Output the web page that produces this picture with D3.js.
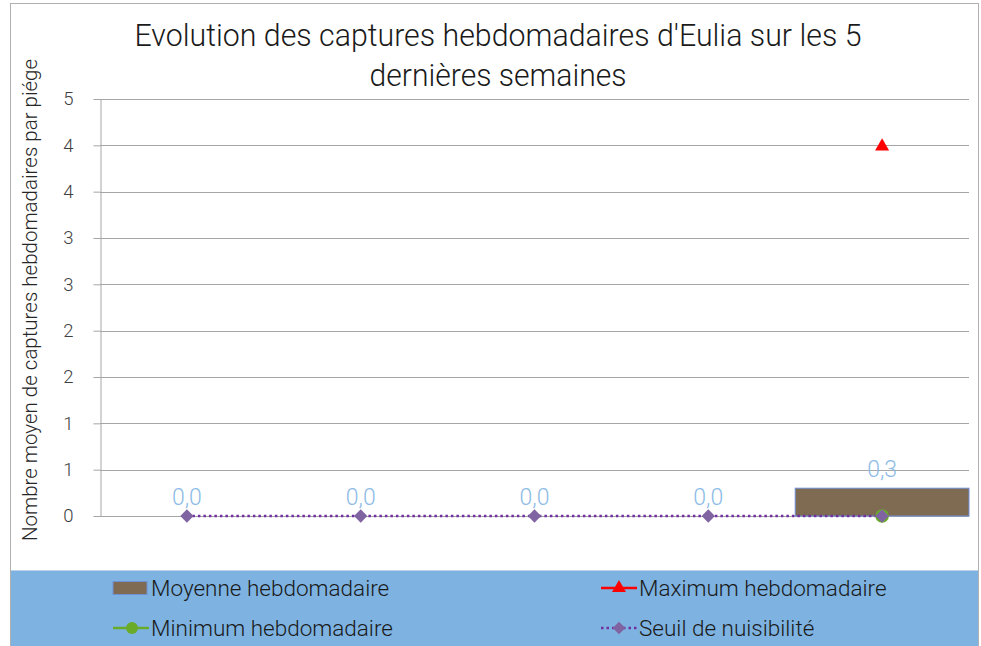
<!DOCTYPE html>
<html><head><meta charset="utf-8">
<script src="https://cdn.jsdelivr.net/npm/d3@7"></script>
<style>body{margin:0;background:#fff}svg{display:block}</style>
</head><body>
<svg id="c" width="981" height="646"></svg>
<script>
const categories = ["S1","S2","S3","S4","S5"];
const moyenne = [0.0, 0.0, 0.0, 0.0, 0.3];
const maximum = [null, null, null, null, 4.0];
const minimum = [null, null, null, null, 0.0];
const seuil = [0, 0, 0, 0, 0];
const yTicks = [0, 0.5, 1, 1.5, 2, 2.5, 3, 3.5, 4, 4.5];
const title = ["Evolution des captures hebdomadaires d'Eulia sur les 5", "dernières semaines"];
const yTitle = "Nombre moyen de captures hebdomadaires par piége";
const legendItems = ["Moyenne hebdomadaire", "Maximum hebdomadaire", "Minimum hebdomadaire", "Seuil de nuisibilité"];

const svg = d3.select("#c");
const font = "Roboto, 'Open Sans', sans-serif";
// chart border
svg.append("rect").attr("x",10.5).attr("y",3.5).attr("width",968).attr("height",650)
  .attr("fill","#fff").attr("stroke","#b0b0b0");

const x = d3.scaleBand().domain(categories).range([100, 969]).padding(0);
const y = d3.scaleLinear().domain([0, 4.5]).range([516, 99]);

// gridlines
svg.append("g").selectAll("line").data(yTicks.slice(1)).join("line")
  .attr("x1",100).attr("x2",969).attr("y1",d=>Math.round(y(d))+0.5).attr("y2",d=>Math.round(y(d))+0.5)
  .attr("stroke","#a6a6a6").attr("stroke-width",1);

// y axis
const yAxis = svg.append("g").attr("transform","translate(100.5,0)")
  .call(d3.axisLeft(y).tickValues(yTicks).tickSize(7).tickSizeOuter(0)
    .tickFormat(d => String(Math.round(d + 1e-9))));
yAxis.select(".domain").attr("stroke","#a6a6a6");
yAxis.selectAll(".tick line").attr("stroke","#a6a6a6");
yAxis.selectAll(".tick text").attr("font-family",font).attr("font-size",18.5).attr("fill","#404040").attr("x",-27).attr("font-weight",300);

// x axis line
svg.append("line").attr("x1",100).attr("x2",969).attr("y1",516.5).attr("y2",516.5).attr("stroke","#a6a6a6");

// bars
svg.append("g").selectAll("rect").data(moyenne.map((v,i)=>({c:categories[i],v}))).join("rect")
  .attr("x",d=>x(d.c)).attr("width",x.bandwidth())
  .attr("y",d=>y(d.v)).attr("height",d=>y(0)-y(d.v))
  .attr("fill","#7f6b52").attr("stroke",d=>d.v>0?"#6f8fd6":"none").attr("stroke-width",1);

// data labels
svg.append("g").selectAll("text").data(moyenne.map((v,i)=>({c:categories[i],v}))).join("text")
  .attr("x",d=>x(d.c)+x.bandwidth()/2).attr("y",d=>y(d.v)-11)
  .attr("text-anchor","middle").attr("font-family",font).attr("font-size",23).attr("font-weight",300)
  .attr("fill","#8dbbe6").text(d=>d3.format(".1f")(d.v).replace(".",","));

const cx = c => x(c)+x.bandwidth()/2;
// seuil line
svg.append("path").datum(seuil.map((v,i)=>[cx(categories[i]), y(v)]))
  .attr("d", d3.line()).attr("fill","none").attr("stroke","#7030a0").attr("stroke-width",2.5)
  .attr("stroke-dasharray","2.5,3");

// minimum markers
svg.append("g").selectAll("circle").data(minimum.map((v,i)=>({c:categories[i],v})).filter(d=>d.v!==null)).join("circle")
  .attr("cx",d=>cx(d.c)).attr("cy",d=>y(d.v)).attr("r",6.8).attr("fill","#6aac2a");

// seuil diamonds
svg.append("g").selectAll("path").data(seuil.map((v,i)=>({c:categories[i],v}))).join("path")
  .attr("transform",d=>`translate(${cx(d.c)},${y(d.v)}) rotate(45)`)
  .attr("d", d3.symbol().type(d3.symbolSquare).size(88)).attr("fill","#8064a2");

// maximum markers
svg.append("g").selectAll("path").data(maximum.map((v,i)=>({c:categories[i],v})).filter(d=>d.v!==null)).join("path")
  .attr("transform",d=>`translate(${cx(d.c)},${y(d.v)+1})`)
  .attr("d", d3.symbol().type(d3.symbolTriangle).size(85)).attr("fill","#ff0000");

// title
const titleW = [727, 257];
svg.append("g").selectAll("text").data(title).join("text")
  .attr("x",498).attr("y",(d,i)=>46+i*40).attr("text-anchor","middle")
  .attr("font-family",font).attr("font-weight",300).attr("font-size",31)
  .attr("textLength",(d,i)=>titleW[i]).attr("lengthAdjust","spacingAndGlyphs")
  .attr("fill","#1a1a1a").text(d=>d);

// y title
svg.append("text").attr("transform","translate(37,300) rotate(-90)").attr("text-anchor","middle")
  .attr("font-family",font).attr("font-size",20.5).attr("font-weight",300).attr("fill","#262626").text(yTitle);

// legend
svg.append("rect").attr("x",11).attr("y",570).attr("width",967).attr("height",76).attr("fill","#7eb3e1");
svg.append("line").attr("x1",11).attr("x2",978).attr("y1",570.5).attr("y2",570.5).attr("stroke","#b9d3ec");
const pos = [[113,588],[601,588],[113,628],[601,628]];
legendItems.forEach((t,i)=>{
  const [lx,ly] = pos[i];
  const g = svg.append("g");
  if(i===0){
    g.append("rect").attr("x",lx).attr("y",ly-6.5).attr("width",34).attr("height",13).attr("fill","#7f6b52").attr("stroke","#6f8fd6");
  } else if(i===1){
    g.append("line").attr("x1",lx).attr("x2",lx+36).attr("y1",ly).attr("y2",ly).attr("stroke","#ff0000").attr("stroke-width",2.5);
    g.append("path").attr("transform",`translate(${lx+18},${ly})`).attr("d",d3.symbol().type(d3.symbolTriangle).size(85)).attr("fill","#ff0000");
  } else if(i===2){
    g.append("line").attr("x1",lx).attr("x2",lx+36).attr("y1",ly).attr("y2",ly).attr("stroke","#6aac2a").attr("stroke-width",2.5);
    g.append("circle").attr("cx",lx+19).attr("cy",ly).attr("r",6).attr("fill","#6aac2a");
  } else {
    g.append("line").attr("x1",lx).attr("x2",lx+36).attr("y1",ly).attr("y2",ly).attr("stroke","#7030a0").attr("stroke-width",2.5).attr("stroke-dasharray","2.5,3");
    g.append("path").attr("transform",`translate(${lx+18},${ly}) rotate(45)`).attr("d",d3.symbol().type(d3.symbolSquare).size(80)).attr("fill","#8064a2");
  }
  g.append("text").attr("x",lx+38).attr("y",ly+8).attr("font-family",font).attr("font-size",22.5)
    .attr("fill","#1a1a1a").attr("font-weight",300).text(t);
});
</script>
</body></html>
